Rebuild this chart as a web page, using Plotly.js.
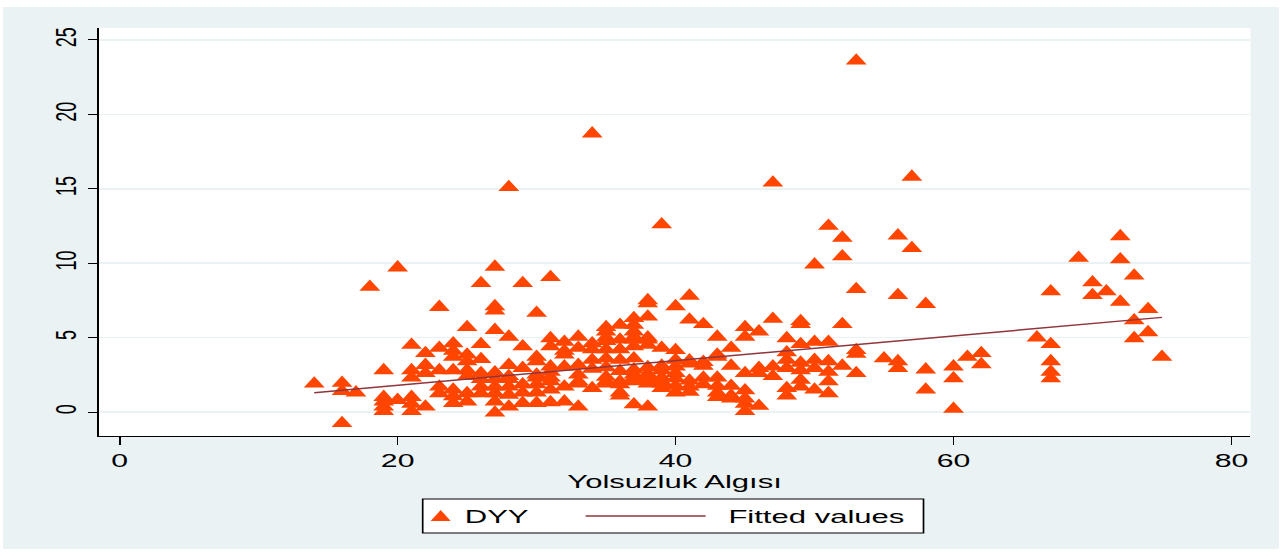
<!DOCTYPE html>
<html>
<head>
<meta charset="utf-8">
<script src="https://cdn.plot.ly/plotly-3.0.1.min.js"></script>
<style>
  html, body { margin: 0; padding: 0; background: #ffffff; }
  /* Stata grafiği yatayda gerilmiş; aynı görünüm için dar çizip genişletiyoruz */
  #grafik {
    position: absolute; left: 3px; top: 7px;
    width: 760px; height: 542px;
    transform: scaleX(1.679); transform-origin: 0 0;
  }
</style>
</head>
<body>
<div id="grafik"></div>
<script>
// ---- veriler ----
const skorlar = [14, 16, 17, 18, 19, 20, 21, 22, 23, 24, 25, 26, 27, 28, 29, 30, 31, 32, 33, 34, 35, 36, 37, 38, 39, 40,
  41, 42, 43, 44, 45, 46, 47, 48, 49, 50, 51, 52, 53, 55, 56, 57, 58, 60, 61, 62, 66, 67, 69, 70, 71, 72, 73, 74, 75];

const dyyDegerleri = [
  [1.9],
  [1.95, 1.4, -0.75],
  [1.3],
  [8.4],
  [2.8, 1.0, 0.7, 0.35, 0.05],
  [9.7, 0.8],
  [4.5, 2.8, 2.3, 1.0, 0.55, 0.05],
  [3.95, 3.15, 2.6, 0.35],
  [7.05, 4.3, 2.8, 1.7, 1.25],
  [4.6, 4.1, 3.7, 2.8, 1.5, 1.05, 0.6],
  [5.7, 3.85, 3.4, 2.8, 2.4, 1.25, 0.7],
  [8.65, 4.55, 3.55, 2.6, 2.2, 1.7, 1.25],
  [9.75, 7.1, 6.8, 5.5, 2.65, 2.2, 1.7, 1.25, 0.7, -0.05],
  [15.1, 5.05, 3.15, 2.4, 2.2, 1.7, 1.15, 0.35],
  [8.65, 4.4, 2.95, 1.85, 1.3, 0.6],
  [6.65, 3.7, 3.4, 2.5, 2.3, 1.85, 1.3, 0.6],
  [9.05, 4.95, 4.4, 3.05, 2.7, 2.3, 2.05, 1.5, 0.65],
  [4.7, 4.1, 3.85, 3.05, 1.7, 0.7],
  [5.05, 4.3, 3.15, 2.5, 2.05, 1.9, 0.35],
  [18.7, 4.6, 4.2, 3.5, 2.9, 1.6],
  [5.7, 5.4, 5.0, 4.75, 4.2, 3.6, 3.0, 2.35, 2.05, 1.9],
  [5.85, 4.85, 4.2, 3.5, 2.75, 2.05, 1.85, 1.3, 1.1],
  [6.3, 5.85, 5.4, 5.05, 4.85, 4.4, 3.6, 2.85, 2.5, 2.3, 2.05, 0.5],
  [7.5, 7.3, 6.4, 5.0, 4.85, 4.5, 3.0, 2.55, 2.4, 2.1, 1.9, 0.35],
  [12.6, 4.3, 3.1, 2.8, 2.3, 2.05, 1.9, 1.6],
  [7.1, 4.15, 3.5, 3.05, 2.6, 2.25, 1.75, 1.3],
  [7.8, 6.2, 3.45, 3.25, 2.1, 1.7, 1.35],
  [5.9, 3.35, 3.1, 2.3, 1.85],
  [5.05, 3.85, 3.7, 2.3, 1.75, 1.3, 1.0],
  [4.3, 3.1, 1.75, 1.1, 0.9],
  [5.7, 5.05, 2.6, 1.45, 0.9, 0.55, 0.05],
  [5.4, 2.95, 2.6, 0.4],
  [15.4, 6.25, 3.05, 2.4],
  [4.95, 4.0, 3.5, 2.95, 1.6, 1.1],
  [6.1, 5.9, 4.55, 3.3, 2.8, 2.15, 1.7],
  [9.9, 4.7, 3.5, 2.95, 1.5],
  [12.5, 4.7, 3.4, 2.7, 2.05, 1.25],
  [11.7, 10.45, 5.9, 3.1],
  [23.6, 8.25, 4.15, 3.9, 2.6],
  [3.6],
  [11.85, 7.85, 3.4, 2.95],
  [15.8, 11.0],
  [7.25, 2.85, 1.5],
  [3.05, 2.25, 0.2],
  [3.7],
  [3.95, 3.2],
  [5.0],
  [8.1, 4.55, 3.4, 2.7, 2.25],
  [10.35],
  [8.7, 7.85],
  [8.1],
  [11.8, 10.25, 7.4],
  [9.15, 6.15, 4.95],
  [6.9, 5.35],
  [3.7]
];

// regresyon doğrusunun uç noktaları
const fitX = [14, 75];
const fitY = [1.3, 6.36];

const xTikler = [0, 20, 40, 60, 80];
const yTikler = [0, 5, 10, 15, 20, 25];

// ---- renkler ----
const ARKA = "#eaf2f3";
const TURUNCU = "#ff4500";
const BORDO = "#90353b";
const YAZI = "Liberation Sans, Arial, sans-serif";

// düz diziler
const xNokta = [];
const yNokta = [];
skorlar.forEach((s, i) => {
  dyyDegerleri[i].forEach(v => { xNokta.push(s); yNokta.push(v); });
});

const noktalar = {
  x: xNokta, y: yNokta,
  type: "scatter", mode: "markers", name: "DYY",
  marker: { symbol: "triangle-up", size: 10.8, color: TURUNCU, line: { width: 0 } },
  hoverinfo: "skip"
};

const dogru = {
  x: fitX, y: fitY,
  type: "scatter", mode: "lines", name: "Fitted values",
  line: { color: BORDO, width: 1.5 },
  hoverinfo: "skip"
};

// el yapımı gösterge (Stata tarzı kutu)
const lejantSekiller = [
  { type: "rect", xref: "paper", yref: "paper", x0: 0.2813, x1: 0.7161, y0: -0.2377, y1: -0.1544,
    line: { color: "#000", width: 1 }, fillcolor: "#ffffff" },
  { type: "path", xref: "paper", yref: "paper",
    path: "M 0.2882 -0.2083 L 0.3056 -0.2083 L 0.2969 -0.1814 Z",
    line: { width: 0 }, fillcolor: TURUNCU },
  { type: "line", xref: "paper", yref: "paper", x0: 0.4227, x1: 0.5269, y0: -0.1961, y1: -0.1961,
    line: { color: BORDO, width: 1.5 } }
];

const lejantYazilar = [
  { text: "DYY", x: 0.3142 },
  { text: "Fitted values", x: 0.5443 }
].map(a => ({
  text: a.text, x: a.x, y: -0.1961, xref: "paper", yref: "paper",
  xanchor: "left", yanchor: "middle", showarrow: false,
  font: { family: YAZI, size: 18.5, color: "#000" }
}));

const layout = {
  width: 760, height: 542,
  paper_bgcolor: ARKA, plot_bgcolor: "#ffffff",
  margin: { l: 56.6, r: 17.3, t: 21, b: 113 },
  showlegend: false,
  font: { family: YAZI, size: 18, color: "#000" },
  xaxis: {
    range: [-1.51, 81.37], tickvals: xTikler, ticktext: xTikler.map(String),
    showgrid: false, zeroline: false,
    showline: true, linecolor: "#000", linewidth: 1.2,
    ticks: "outside", ticklen: 8, tickwidth: 1, tickcolor: "#000",
    tickfont: { family: YAZI, size: 18 },
    title: { text: "Yolsuzluk Algısı", font: { family: YAZI, size: 18.5 }, standoff: 2 }
  },
  yaxis: {
    range: [-1.61, 25.8], tickvals: yTikler, ticktext: yTikler.map(String),
    showgrid: true, gridcolor: ARKA, gridwidth: 1.5, zeroline: false,
    showline: true, linecolor: "#000", linewidth: 1.2,
    ticks: "outside", ticklen: 5, tickwidth: 1, tickcolor: "#000",
    tickangle: -90, tickfont: { family: YAZI, size: 18 }
  },
  shapes: lejantSekiller,
  annotations: lejantYazilar
};

Plotly.newPlot("grafik", [noktalar, dogru], layout, { displayModeBar: false, staticPlot: true })
  .then(gd => {
    // Plotly üçgenleri basık; Stata'daki gibi biraz dikleştir
    gd.querySelectorAll(".scatterlayer .trace:first-child path.point").forEach(p => {
      p.setAttribute("transform", p.getAttribute("transform") + " scale(1,1.4)");
    });
  });
</script>
</body>
</html>
